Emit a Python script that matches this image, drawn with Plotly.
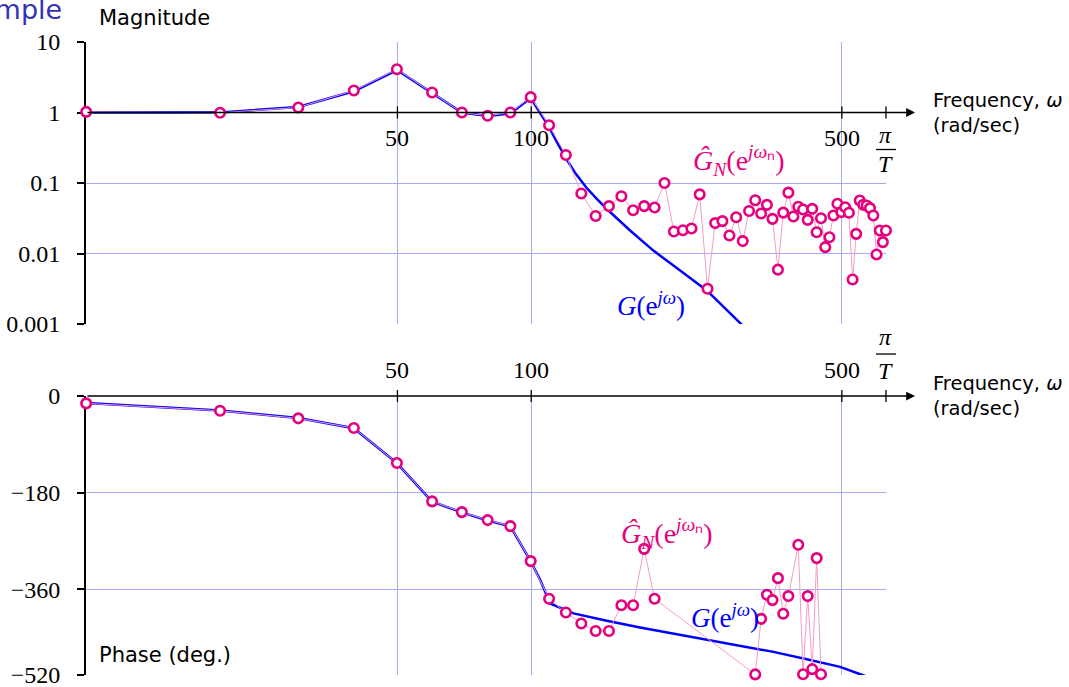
import math
import plotly.graph_objects as go

# ---------------- data ----------------
# estimated frequency response frequencies (rad/sec)
omega_n = [9.97, 19.95, 29.92, 39.89, 49.87, 59.84, 69.81, 79.79, 89.76, 99.73,
           109.71, 119.68, 129.65, 139.63, 149.60, 159.57, 169.55, 179.52, 189.50, 199.47,
           209.44, 219.42, 229.39, 239.36, 249.34, 259.31, 269.28, 279.26, 289.23, 299.20,
           309.18, 319.15, 329.12, 339.10, 349.07, 359.04, 369.02, 378.99, 388.97, 398.94,
           408.91, 418.89, 428.86, 438.83, 448.81, 458.78, 468.75, 478.73, 488.70, 498.67,
           508.65, 518.62, 528.59, 538.57, 548.54, 558.51, 568.49, 578.46, 588.44, 598.41,
           608.38, 618.36, 628.33]
mag_est = [1.02, 0.99, 1.18, 2.05, 4.1, 1.92, 1.0, 0.90, 1.0, 1.65,
           0.66, 0.25, 0.071, 0.034, 0.047, 0.065, 0.041, 0.047, 0.045, 0.10,
           0.0205, 0.0214, 0.0226, 0.069, 0.00316, 0.027, 0.0288, 0.018, 0.0327, 0.015,
           0.040, 0.057, 0.037, 0.049, 0.031, 0.0059, 0.038, 0.073, 0.0335, 0.046,
           0.042, 0.030, 0.043, 0.020, 0.0316, 0.0123, 0.017, 0.0346, 0.0507, 0.0386,
           0.0454, 0.0378, 0.00428, 0.019, 0.0565, 0.049, 0.048, 0.044, 0.0346, 0.0097,
           0.0212, 0.0145, 0.0212]
phase_est = [-13.7, -27.4, -41.6, -59.7, -125, -196.5, -216.4, -231.3, -242.5, -307.8,
             -378, -403.5, -424, -438, -438, -390, -390, -285, -378, None,
             None, None, None, None, None, None, None, None, None, None,
             None, -519, -415.4, -370.6, -380.5, -339.5, -406, -373, None, -277.4,
             -518.6, -373, -509.2, -302.2, -518.6, None, None, None, None, None,
             None, None, None, None, None, None, None, None, None, None,
             None, None, None]

# true system G(e^{jw})
omega_true_mag = [9.97, 19.95, 29.92, 39.89, 49.87, 59.84, 69.81, 79.79, 89.76, 99.73,
                  104.5, 109.7, 114.5, 120.2, 126.0, 133.3, 141.0, 149.2, 166.9, 188.3,
                  216.3, 248.3, 295.3, 320.0]
mag_true = [1.0, 1.0, 1.2, 2.0, 4.0, 1.9, 1.0, 0.89, 0.97, 1.6,
            1.0, 0.62, 0.37, 0.215, 0.135, 0.085, 0.058, 0.0407, 0.0212, 0.011,
            0.00574, 0.00299, 0.00103, 0.00062]
omega_true_ph = [9.97, 19.95, 29.92, 39.89, 49.87, 59.84, 69.81, 79.79, 89.76, 99.73,
                 104.8, 110.3, 124.5, 147.9, 175.8, 208.9, 248.3, 295.3, 350.8, 416.9,
                 495.4, 563.9, 590.0]
phase_true = [-13, -27, -41, -60, -125, -197, -217, -232, -243, -308,
              -343, -386.7, -405.3, -419.1, -431.5, -442.6, -453.8, -465, -477, -490.6,
              -505, -522, -528]

x_ticks = [50, 100, 500]
pi_over_T = 628.32
mag_ticks = [0.001, 0.01, 0.1, 1, 10]
mag_tick_text = ["0.001", "0.01", "0.1", "1", "10"]
phase_ticks = [0, -180, -360, -520]
phase_tick_text = ["0", "\u2212180", "\u2212360", "\u2212520"]

# ---------------- style ----------------
W, H = 1069, 687
L, R, T, B = 86, 183, 42, 12
plot_w = W - L - R
plot_h = H - T - B
top_dom = [0.5545, 1.0]
bot_dom = [0.0, 0.4408]
x_range = [math.log10(9.96), math.log10(pi_over_T) + 1e-4]
mag_range = [-3 - 1e-4, 1 + 1e-4]
ph_range = [-520.1, 0.1]

BLUE = "#0000FF"
PINK = "#E5007D"
PINK_LINE = "#F59BC6"
GRID = "#A8A8FF"
SERIF = "Liberation Serif"
SANS = "DejaVu Sans"

fig = go.Figure()

# true system (blue)
fig.add_trace(go.Scatter(x=omega_true_mag, y=mag_true, mode="lines",
                         line=dict(color=BLUE, width=2.5), xaxis="x", yaxis="y",
                         showlegend=False))
fig.add_trace(go.Scatter(x=omega_true_ph, y=phase_true, mode="lines",
                         line=dict(color=BLUE, width=2.5), xaxis="x2", yaxis="y2",
                         showlegend=False))
# estimate (pink)
marker = dict(symbol="circle", size=9.5, color="white", line=dict(color=PINK, width=2.6))
fig.add_trace(go.Scatter(x=omega_n, y=mag_est, mode="lines+markers",
                         line=dict(color=PINK_LINE, width=1), marker=marker,
                         xaxis="x", yaxis="y", cliponaxis=False, showlegend=False))
fig.add_trace(go.Scatter(x=omega_n, y=phase_est, mode="lines+markers", connectgaps=True,
                         line=dict(color=PINK_LINE, width=1), marker=marker,
                         xaxis="x2", yaxis="y2", cliponaxis=False, showlegend=False))

xgrid = x_ticks + [pi_over_T]
xaxis_common = dict(type="log", range=x_range, tickvals=xgrid, showticklabels=False,
                    showgrid=True, gridcolor=GRID, gridwidth=1, ticks="",
                    zeroline=False, showline=False, layer="below traces", automargin=False)
yaxis_common = dict(showgrid=True, gridcolor=GRID, gridwidth=1, ticks="outside",
                    ticklen=7, tickwidth=1.5, tickcolor="black", showline=True,
                    linecolor="black", linewidth=2, zeroline=False,
                    tickfont=dict(family=SERIF, size=24, color="black"),
                    ticklabelstandoff=12, ticklabeloverflow="allow",
                    layer="below traces", automargin=False)

fig.update_layout(
    width=W, height=H,
    margin=dict(l=L, r=R, t=T, b=B),
    paper_bgcolor="white", plot_bgcolor="white",
    xaxis=dict(domain=[0, 1], anchor="y", **xaxis_common),
    xaxis2=dict(domain=[0, 1], anchor="y2", **xaxis_common),
    yaxis=dict(domain=top_dom, anchor="x", type="log", range=mag_range,
               tickvals=mag_ticks, ticktext=mag_tick_text, **yaxis_common),
    yaxis2=dict(domain=bot_dom, anchor="x2", range=ph_range,
                tickvals=phase_ticks, ticktext=phase_tick_text, **yaxis_common),
)

annotations = []
shapes = []


def xfrac(v):
    return (math.log10(v) - x_range[0]) / (x_range[1] - x_range[0])


top_axis_frac = (0 - mag_range[0]) / (mag_range[1] - mag_range[0])
bot_axis_frac = (0 - ph_range[0]) / (ph_range[1] - ph_range[0])
top_h = plot_h * (top_dom[1] - top_dom[0])
bot_h = plot_h * (bot_dom[1] - bot_dom[0])
arrow_tip = 1 + 29 / plot_w

for yref, yfrac, hpx, below in [("y domain", top_axis_frac, top_h, True),
                                 ("y2 domain", bot_axis_frac, bot_h, False)]:
    xref = "x domain" if yref == "y domain" else "x2 domain"
    xr = "x" if yref == "y domain" else "x2"
    # axis line with arrow
    annotations.append(dict(xref=xref, yref=yref, x=arrow_tip, y=yfrac,
                            ax=-(arrow_tip * plot_w), ay=0, axref="pixel", ayref="pixel",
                            showarrow=True, arrowhead=2, arrowsize=1.1, arrowwidth=1.6,
                            arrowcolor="black", text=""))
    # tick marks
    for v in xgrid:
        d = 6 / hpx
        shapes.append(dict(type="line", xref=xref, yref=yref, x0=xfrac(v), x1=xfrac(v),
                           y0=yfrac - d, y1=yfrac + d, line=dict(color="black", width=1.3)))
    # tick labels
    for v in x_ticks:
        annotations.append(dict(xref=xr, yref=yref, x=math.log10(v), y=yfrac,
                                xanchor="center", yanchor="middle",
                                yshift=-25 if below else 26, text=str(v), showarrow=False,
                                font=dict(family=SERIF, size=24, color="black")))
    # pi/T fraction
    if below:
        pi_shift, bar_shift, t_shift = -22, -37, -51
    else:
        pi_shift, bar_shift, t_shift = 59, 42, 25
    annotations.append(dict(xref=xr, yref=yref, x=math.log10(pi_over_T), y=yfrac,
                            xanchor="center", yanchor="middle",
                            yshift=pi_shift, text="<i>π</i>", showarrow=False,
                            font=dict(family=SERIF, size=24, color="black")))
    annotations.append(dict(xref=xr, yref=yref, x=math.log10(pi_over_T), y=yfrac,
                            xanchor="center", yanchor="middle",
                            yshift=t_shift, text="<i>T</i>", showarrow=False,
                            font=dict(family=SERIF, size=24, color="black")))
    xf = xfrac(pi_over_T)
    shapes.append(dict(type="line", xref=xref, yref=yref, x0=xf - 10 / plot_w,
                       x1=xf + 10 / plot_w, y0=yfrac + bar_shift / hpx,
                       y1=yfrac + bar_shift / hpx, line=dict(color="black", width=1.3)))
    # axis title
    annotations.append(dict(xref=xref, yref=yref, x=1 + 45 / plot_w, y=yfrac,
                            xanchor="left", yanchor="middle", align="left",
                            text="Frequency, <i>ω</i><br>(rad/sec)", showarrow=False,
                            font=dict(family=SANS, size=19.5, color="black")))

# panel labels
annotations.append(dict(xref="paper", yref="paper", x=11 / plot_w, y=1 + 24 / plot_h,
                        xanchor="left", yanchor="middle", text="Magnitude", showarrow=False,
                        font=dict(family=SANS, size=21, color="black")))
annotations.append(dict(xref="paper", yref="paper", x=11 / plot_w, y=20 / plot_h,
                        xanchor="left", yanchor="middle", text="Phase (deg.)", showarrow=False,
                        font=dict(family=SANS, size=21, color="black")))
# slide title (cut off)
annotations.append(dict(xref="paper", yref="paper", x=-22 / plot_w, y=1 + 33 / plot_h,
                        xanchor="right", yanchor="middle", text="Example", showarrow=False,
                        font=dict(family=SANS, size=27, color="#3333B3")))

# curve labels
G_txt = "<i>G</i>(e<sup><i>jω</i></sup>)"
Gh_txt = "<i>Ĝ</i><sub><i>N</i></sub>(e<sup><i>jω</i>ₙ</sup>)"
annotations.append(dict(xref="x", yref="y", x=math.log10(186), y=math.log10(0.0019),
                        xanchor="center", yanchor="middle",
                        text=G_txt, showarrow=False,
                        font=dict(family=SERIF, size=27, color=BLUE)))
annotations.append(dict(xref="x", yref="y", x=math.log10(293), y=math.log10(0.21),
                        xanchor="center", yanchor="middle",
                        text=Gh_txt, showarrow=False,
                        font=dict(family=SERIF, size=28, color=PINK)))
annotations.append(dict(xref="x2", yref="y2", x=math.log10(202), y=-257,
                        xanchor="center", yanchor="middle",
                        text=Gh_txt, showarrow=False,
                        font=dict(family=SERIF, size=28, color=PINK)))
annotations.append(dict(xref="x2", yref="y2", x=math.log10(273), y=-410,
                        xanchor="center", yanchor="middle",
                        text=G_txt, showarrow=False,
                        font=dict(family=SERIF, size=27, color=BLUE)))

fig.update_layout(annotations=annotations, shapes=shapes)
fig.write_html("out.html", config={"displayModeBar": False},
               post_script="document.body.style.margin='0px';document.body.style.padding='0px';")
